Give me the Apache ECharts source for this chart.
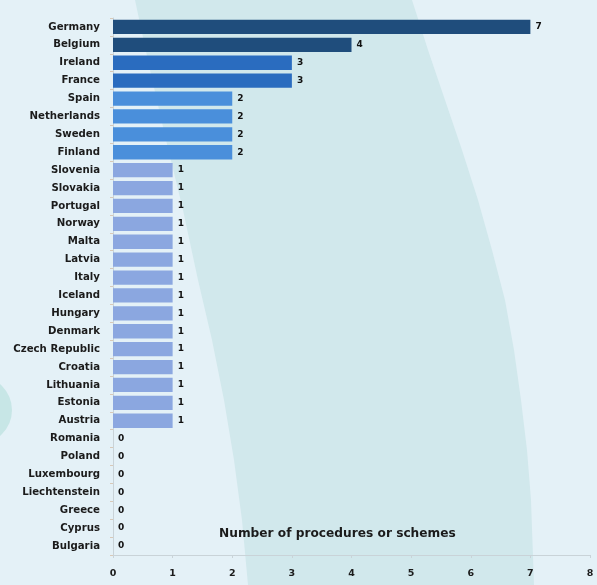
<!DOCTYPE html>
<html>
<head>
<meta charset="utf-8">
<script src="https://cdn.jsdelivr.net/npm/echarts@6/dist/echarts.min.js"></script>
<style>
  html, body { margin: 0; padding: 0; background: #e4f1f7; }
  #main { width: 597px; height: 585px; }
</style>
</head>
<body>
<div id="main"></div>
<script>
// countries, top to bottom as drawn
var countries = ['Germany', 'Belgium', 'Ireland', 'France', 'Spain', 'Netherlands', 'Sweden', 'Finland',
    'Slovenia', 'Slovakia', 'Portugal', 'Norway', 'Malta', 'Latvia', 'Italy', 'Iceland', 'Hungary',
    'Denmark', 'Czech Republic', 'Croatia', 'Lithuania', 'Estonia', 'Austria',
    'Romania', 'Poland', 'Luxembourg', 'Liechtenstein', 'Greece', 'Cyprus', 'Bulgaria'];
var counts = [7, 4, 3, 3, 2, 2, 2, 2,
    1, 1, 1, 1, 1, 1, 1, 1, 1, 1, 1, 1, 1, 1, 1,
    0, 0, 0, 0, 0, 0, 0];
var xTicks = [0, 1, 2, 3, 4, 5, 6, 7, 8];
var axisTitle = 'Number of procedures or schemes';

// bar colour by value
function barColor(v) {
    if (v >= 4) return '#1f4d7c';
    if (v == 3) return '#2a6cbf';
    if (v == 2) return '#4a8fdb';
    return '#8ba7e0';
}

var myChart = echarts.init(document.getElementById('main'));

var data = [];
for (var i = 0; i < counts.length; i++) {
    data.push({ value: counts[i], itemStyle: { color: barColor(counts[i]) } });
}

var labelFont = '"DejaVu Sans", sans-serif';

var option = {
    backgroundColor: '#e4f1f7',
    animation: false,
    graphic: [
        {   // teal arc band behind the bars
            type: 'polygon',
            z: -10,
            shape: {
                points: [[135, 0], [412, 0], [428, 50], [445, 100], [462, 150], [478, 200], [492, 250],
                         [505, 300], [514, 350], [521, 400], [527, 450], [531, 500], [534, 585],
                         [248, 585], [242, 520], [234, 460], [224, 400], [212, 340], [198, 280],
                         [183, 210], [166, 140], [150, 70], [135, 0]]
            },
            style: { fill: '#d1e8ec' }
        },
        {   // circle peeking in on the left
            type: 'circle',
            z: -10,
            shape: { cx: -22, cy: 410, r: 34 },
            style: { fill: '#c7e6e6' }
        },
        {
            type: 'text',
            left: 219,
            top: 528,
            style: {
                text: axisTitle,
                font: 'bold 12.2px ' + labelFont,
                fill: '#1b1b1b'
            }
        }
    ],
    grid: {
        left: 113,
        right: 7,
        top: 18,
        bottom: 30,
        containLabel: false
    },
    xAxis: {
        type: 'value',
        min: 0,
        max: 8,
        interval: 1,
        splitLine: { show: false },
        axisLine: { show: true, lineStyle: { color: '#c9d3d8' } },
        axisTick: { show: true, length: 3, lineStyle: { color: '#c9d3d8' } },
        axisLabel: {
            margin: 14,
            color: '#1b1b1b',
            fontFamily: labelFont,
            fontWeight: 'bold',
            fontSize: 9.5,
            formatter: function (v) { return xTicks.indexOf(v) >= 0 ? String(v) : ''; }
        }
    },
    yAxis: {
        type: 'category',
        inverse: true,
        data: countries,
        axisLine: { show: true, lineStyle: { color: '#c9d3d8' } },
        axisTick: { show: true, length: 3, lineStyle: { color: '#d8c9b8' } },
        axisLabel: {
            margin: 13,
            color: '#1b1b1b',
            fontFamily: labelFont,
            fontWeight: 'bold',
            fontSize: 10.2
        }
    },
    series: [
        {
            type: 'bar',
            data: data,
            barCategoryGap: '20%',
            label: {
                show: true,
                position: 'right',
                distance: 5,
                color: '#111',
                fontFamily: labelFont,
                fontWeight: 'bold',
                fontSize: 9
            }
        }
    ]
};

myChart.setOption(option);
</script>
</body>
</html>
